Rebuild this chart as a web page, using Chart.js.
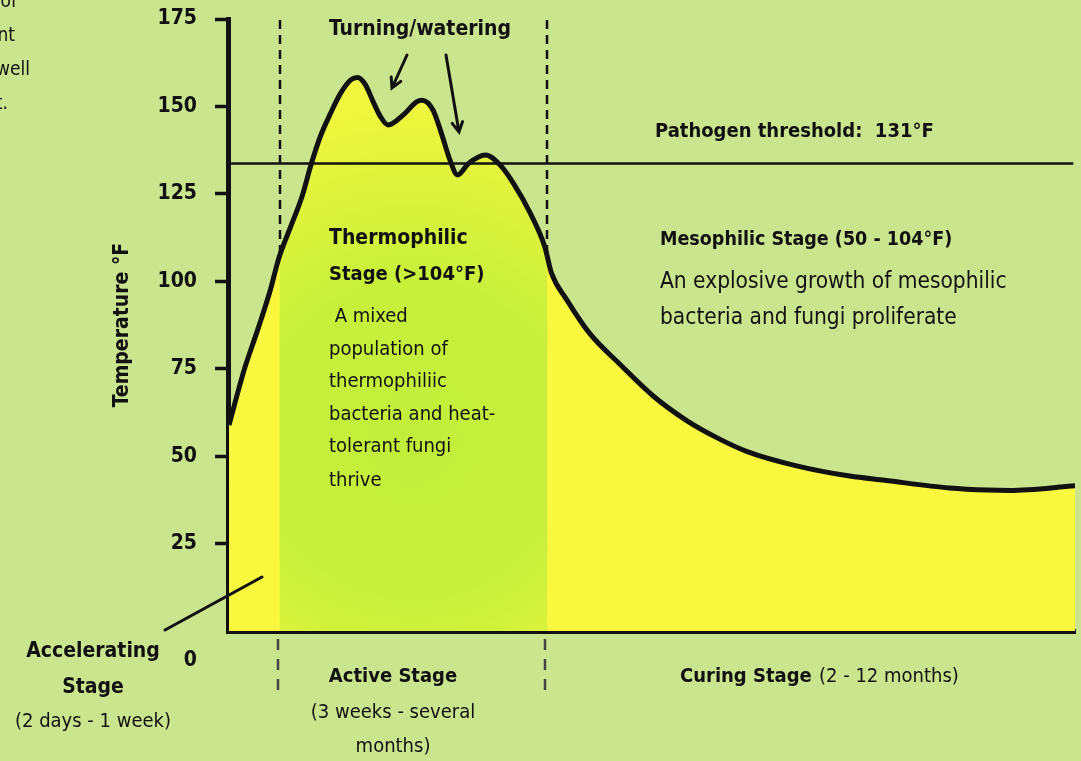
<!DOCTYPE html>
<html>
<head>
<meta charset="utf-8">
<script src="https://cdn.jsdelivr.net/npm/chart.js@4.4.1/dist/chart.umd.min.js"></script>
<style>
  html, body { margin: 0; padding: 0; background: #cae58e; }
  #wrap { width: 1081px; height: 761px; }
</style>
</head>
<body>
<div id="wrap"><canvas id="compostChart" width="1081" height="761"></canvas></div>
<script>
// time axis is arbitrary (0 = start, 100 = end of curing)
const timeX = [0.12, 1.9, 3.5, 5.0, 6.0, 7.4, 8.8, 9.8, 10.9, 12.1, 13.3, 14.5, 15.3, 16.2, 17.2, 18.0, 18.9, 20.7, 22.3, 22.9, 24.2, 25.2, 26.2, 27.1, 28.4, 30.4, 32.1, 33.7, 35.7, 37.4, 38.2, 40.0, 42.7, 46.3, 50.2, 54.2, 57.7, 61.3, 67, 73.4, 77.5, 85.2, 89.7, 92.3, 100];
const tempF = [58.9, 74.6, 86.1, 97.5, 106.6, 115.6, 124.7, 133.3, 141.4, 148.0, 153.8, 157.6, 158.3, 156.3, 151.0, 147.1, 144.7, 147.6, 151.4, 151.8, 149.0, 142.3, 134.7, 130.4, 133.7, 136.1, 133.3, 128.0, 119.4, 109.9, 102.3, 94.7, 85.1, 76.2, 67.2, 60.1, 55.3, 51.3, 47.3, 44.3, 43.1, 40.9, 40.3, 40.2, 41.5];
const thresholdF = 133.7;
const stageEdges = [6.1, 37.7];
const yTicks = [0, 25, 50, 75, 100, 125, 150, 175];

const FONT = '"Liberation Sans Narrow", "DejaVu Sans Condensed", sans-serif';
const YELLOW = '#f9f83f';

function fillPattern(chart) {
    const area = chart.chartArea;
    if (!area || !chart.scales.x) return YELLOW;
    const off = document.createElement('canvas');
    off.width = chart.width;
    off.height = chart.height;
    const c = off.getContext('2d');
    c.fillStyle = YELLOW;
    c.fillRect(0, 0, off.width, off.height);
    const x1 = chart.scales.x.getPixelForValue(stageEdges[0]);
    const x2 = chart.scales.x.getPixelForValue(stageEdges[1]);
    const cx = (x1 + x2) / 2;
    const cy = chart.scales.y.getPixelForValue(55);
    const g = c.createRadialGradient(cx, cy, 10, cx, cy, 340);
    g.addColorStop(0, '#c2ee3b');
    g.addColorStop(0.45, '#c8f03b');
    g.addColorStop(0.8, '#e2f43c');
    g.addColorStop(1, '#f0f63d');
    c.fillStyle = g;
    c.fillRect(x1, 0, x2 - x1, off.height);
    return chart.ctx.createPattern(off, 'no-repeat');
}

function text(c, str, x, y, size, bold, align) {
    c.font = (bold ? 'bold ' : '') + size + 'px ' + FONT;
    c.textAlign = align || 'left';
    c.textBaseline = 'middle';
    c.fillStyle = '#111';
    c.fillText(str, x, y);
}

function arrow(c, x1, y1, x2, y2) {
    const a = Math.atan2(y2 - y1, x2 - x1);
    c.beginPath();
    c.moveTo(x1, y1);
    c.lineTo(x2, y2);
    c.moveTo(x2 - 11 * Math.cos(a - 0.5), y2 - 11 * Math.sin(a - 0.5));
    c.lineTo(x2, y2);
    c.lineTo(x2 - 11 * Math.cos(a + 0.5), y2 - 11 * Math.sin(a + 0.5));
    c.stroke();
}

const annotations = {
    id: 'annotations',
    beforeDatasetsDraw(chart) {
        const c = chart.ctx;
        const xs = chart.scales.x;
        const top = chart.chartArea.top;
        const bottom = chart.chartArea.bottom;
        c.save();
        c.lineWidth = 2.5;
        stageEdges.forEach(v => {
            const x = Math.round(xs.getPixelForValue(v));
            c.strokeStyle = '#111';
            c.setLineDash([9, 6]);
            c.beginPath();
            c.moveTo(x, top + 1);
            c.lineTo(x, bottom - 3);
            c.stroke();
            c.strokeStyle = '#444';
            c.setLineDash([11, 9]);
            c.beginPath();
            c.moveTo(x - 2, bottom + 8);
            c.lineTo(x - 2, bottom + 60);
            c.stroke();
        });
        c.restore();
    },
    afterDraw(chart) {
        const c = chart.ctx;
        c.save();
        c.strokeStyle = '#111';
        c.lineWidth = 3;
        c.lineCap = 'round';
        arrow(c, 407, 55, 392, 88);
        arrow(c, 446, 55, 459, 132);
        c.beginPath();
        c.moveTo(165, 630);
        c.lineTo(262, 577);
        c.stroke();

        text(c, 'Turning/watering', 420, 30, 21, true, 'center');
        text(c, 'Pathogen threshold:  131°F', 655, 132, 20, true);

        text(c, 'Thermophilic', 329, 239, 21, true);
        text(c, 'Stage (>104°F)', 329, 275, 20, true);
        const body = [' A mixed', 'population of', 'thermophiliic', 'bacteria and heat-', 'tolerant fungi', 'thrive'];
        const bodyY = [317, 350, 382, 415, 447, 481];
        body.forEach((s, i) => text(c, s, 329, bodyY[i], 20, false));

        text(c, 'Mesophilic Stage (50 - 104°F)', 660, 240, 19.5, true);
        text(c, 'An explosive growth of mesophilic', 660, 282, 22.5, false);
        text(c, 'bacteria and fungi proliferate', 660, 318, 22.5, false);

        text(c, 'Accelerating', 93, 652, 21, true, 'center');
        text(c, 'Stage', 93, 688, 21, true, 'center');
        text(c, '(2 days - 1 week)', 93, 722, 20, false, 'center');

        text(c, 'Active Stage', 393, 677, 20, true, 'center');
        text(c, '(3 weeks - several', 393, 713, 20, false, 'center');
        text(c, 'months)', 393, 747, 20, false, 'center');

        text(c, 'Curing Stage', 680, 677, 20, true);
        text(c, '(2 - 12 months)', 819, 677, 20, false);

        // fragments of a neighbouring paragraph, cut by the left edge
        text(c, 'of', 17, 2, 19, false, 'right');
        text(c, 'nt', 15, 36, 19, false, 'right');
        text(c, 'well', 30, 70, 19, false, 'right');
        text(c, 't.', 8, 104, 19, false, 'right');
        c.restore();
    }
};

const chart = new Chart(document.getElementById('compostChart'), {
    type: 'line',
    data: {
        datasets: [{
            label: 'Temperature',
            data: timeX.map((x, i) => ({ x: x, y: tempF[i] })),
            borderColor: '#111',
            borderWidth: 5,
            pointRadius: 0,
            cubicInterpolationMode: 'monotone',
            fill: 'origin',
            backgroundColor: ctx => fillPattern(ctx.chart),
            order: 2
        }, {
            label: 'Pathogen threshold',
            data: [{ x: 0, y: thresholdF }, { x: 99.8, y: thresholdF }],
            borderColor: '#111',
            borderWidth: 2.5,
            pointRadius: 0,
            fill: false,
            order: 1
        }]
    },
    options: {
        responsive: false,
        devicePixelRatio: 1,
        animation: false,
        layout: { padding: { top: 19, right: 6, left: 0, bottom: 0 } },
        plugins: { legend: { display: false }, tooltip: { enabled: false } },
        scales: {
            x: {
                type: 'linear',
                min: 0,
                max: 100,
                grid: { display: false },
                ticks: { display: false },
                border: { display: true, color: '#111', width: 5 },
                afterFit: s => { s.height = 130; }
            },
            y: {
                min: 0,
                max: 175,
                afterBuildTicks: s => { s.ticks = yTicks.map(v => ({ value: v })); },
                ticks: {
                    autoSkip: false,
                    color: '#111',
                    padding: 18,
                    callback: v => v === 0 ? ['', '0'] : String(v),
                    font: ctx => ({
                        family: FONT, size: 21, weight: 'bold',
                        lineHeight: ctx.tick && ctx.tick.value === 0 ? 2.8 : 1.2
                    })
                },
                grid: {
                    drawOnChartArea: false,
                    tickLength: 13,
                    tickWidth: 3.5,
                    tickColor: ctx => ctx.tick && ctx.tick.value === 0 ? 'rgba(0,0,0,0)' : '#111'
                },
                border: { display: true, color: '#111', width: 5 },
                title: {
                    display: true,
                    text: 'Temperature °F',
                    color: '#111',
                    font: { family: FONT, size: 21, weight: 'bold' },
                    padding: { top: 110, bottom: 0 }
                },
                afterFit: s => {
                    s.width = 228;
                    s.paddingTop = 0;
                    s.paddingBottom = 0;
                }
            }
        }
    },
    plugins: [annotations]
});
</script>
</body>
</html>
